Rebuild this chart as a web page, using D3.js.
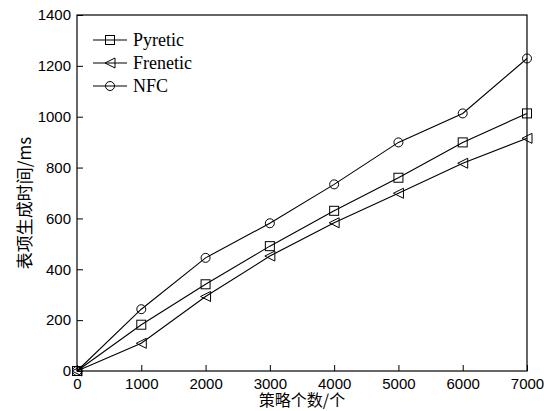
<!DOCTYPE html>
<html>
<head>
<meta charset="utf-8">
<script src="https://cdn.jsdelivr.net/npm/d3@7"></script>
<style>
body { margin: 0; background: #fff; }
.tick text { font-family: "Liberation Sans", Arial, sans-serif; font-size: 15px; fill: #000; }
.axis path, .axis line { stroke: #000; }
</style>
</head>
<body>
<div class="chart"></div>
<script>
// data
let policies = [0, 1000, 2000, 3000, 4000, 5000, 6000, 7000];
let pyretic = [0, 182, 341, 491, 630, 760, 899, 1013];
let frenetic = [0, 109, 293, 452, 583, 699, 817, 915];
let nfc = [0, 243, 445, 581, 734, 899, 1013, 1229];
let seriesNames = ["Pyretic", "Frenetic", "NFC"];
let seriesMarks = ["square", "triangle", "circle"];
let xTicks = [0, 1000, 2000, 3000, 4000, 5000, 6000, 7000];
let yTicks = [0, 200, 400, 600, 800, 1000, 1200, 1400];

let outerWidth = 544, outerHeight = 411;
let margin = {top: 15, right: 17, bottom: 40, left: 77};
let width = outerWidth - margin.left - margin.right, height = outerHeight - margin.top - margin.bottom;

let svg = d3.select('.chart').append('svg')
    .attr('width', outerWidth)
    .attr('height', outerHeight)
    .append('g')
    .attr('transform', `translate(${margin.left},${margin.top})`);

const xScale = d3.scaleLinear().domain([0, 7000]).range([0, width]);
const yScale = d3.scaleLinear().domain([0, 1400]).range([height, 0]);

// axes, ticks pointing inward
svg.append('g')
    .attr('class', 'axis x-axis')
    .attr('transform', `translate(0,${height})`)
    .call(d3.axisBottom(xScale).tickValues(xTicks).tickSize(-6).tickPadding(7).tickFormat(d3.format('d')))
    .call(g => g.select('.domain').remove());

svg.append('g')
    .attr('class', 'axis y-axis')
    .call(d3.axisLeft(yScale).tickValues(yTicks).tickSize(-6).tickPadding(6).tickFormat(d3.format('d')))
    .call(g => g.select('.domain').remove());

// frame
svg.append('rect')
    .attr('width', width).attr('height', height)
    .attr('fill', 'none').attr('stroke', '#000').attr('stroke-width', 1.2);

// axis titles
svg.append('text')
    .attr('x', width / 2).attr('y', height + 35)
    .attr('text-anchor', 'middle')
    .style('font-family', '"Noto Sans CJK SC", sans-serif')
    .style('font-size', '16px')
    .text('策略个数/个');

svg.append('text')
    .attr('transform', `translate(${-46},${height / 2 + 10}) rotate(-90)`)
    .attr('text-anchor', 'middle')
    .style('font-family', '"Noto Sans CJK SC", sans-serif')
    .style('font-size', '17px')
    .text('表项生成时间/ms');

function drawMark(g, type) {
    if (type == 'square') {
        g.append('rect').attr('x', -4.5).attr('y', -4.5).attr('width', 9).attr('height', 9);
    } else if (type == 'circle') {
        g.append('circle').attr('r', 4.5);
    } else {
        g.append('path').attr('d', 'M-5,0L5,-5L5,5Z');
    }
    g.selectAll('*').attr('fill', 'none').attr('stroke', '#000').attr('stroke-width', 1);
}

let allSeries = [pyretic, frenetic, nfc];
let line = d3.line().x((d, i) => xScale(policies[i])).y(d => yScale(d));

allSeries.forEach((vals, k) => {
    svg.append('path')
        .datum(vals)
        .attr('fill', 'none')
        .attr('stroke', '#000')
        .attr('stroke-width', 1.1)
        .attr('d', line);
    vals.forEach((v, i) => {
        let g = svg.append('g').attr('transform', `translate(${xScale(policies[i])},${yScale(v)})`);
        drawMark(g, seriesMarks[k]);
    });
});

// legend
let legend = svg.append('g').attr('transform', 'translate(16,25)');
seriesNames.forEach((name, k) => {
    let row = legend.append('g').attr('transform', `translate(0,${k * 23})`);
    row.append('line').attr('x1', 0).attr('x2', 34).attr('stroke', '#000').attr('stroke-width', 1.1);
    let m = row.append('g').attr('transform', 'translate(17,0)');
    drawMark(m, seriesMarks[k]);
    row.append('text')
        .attr('x', 40).attr('y', 6)
        .style('font-family', '"Liberation Serif", "Times New Roman", serif')
        .style('font-size', '18px')
        .text(name);
});
</script>
</body>
</html>
